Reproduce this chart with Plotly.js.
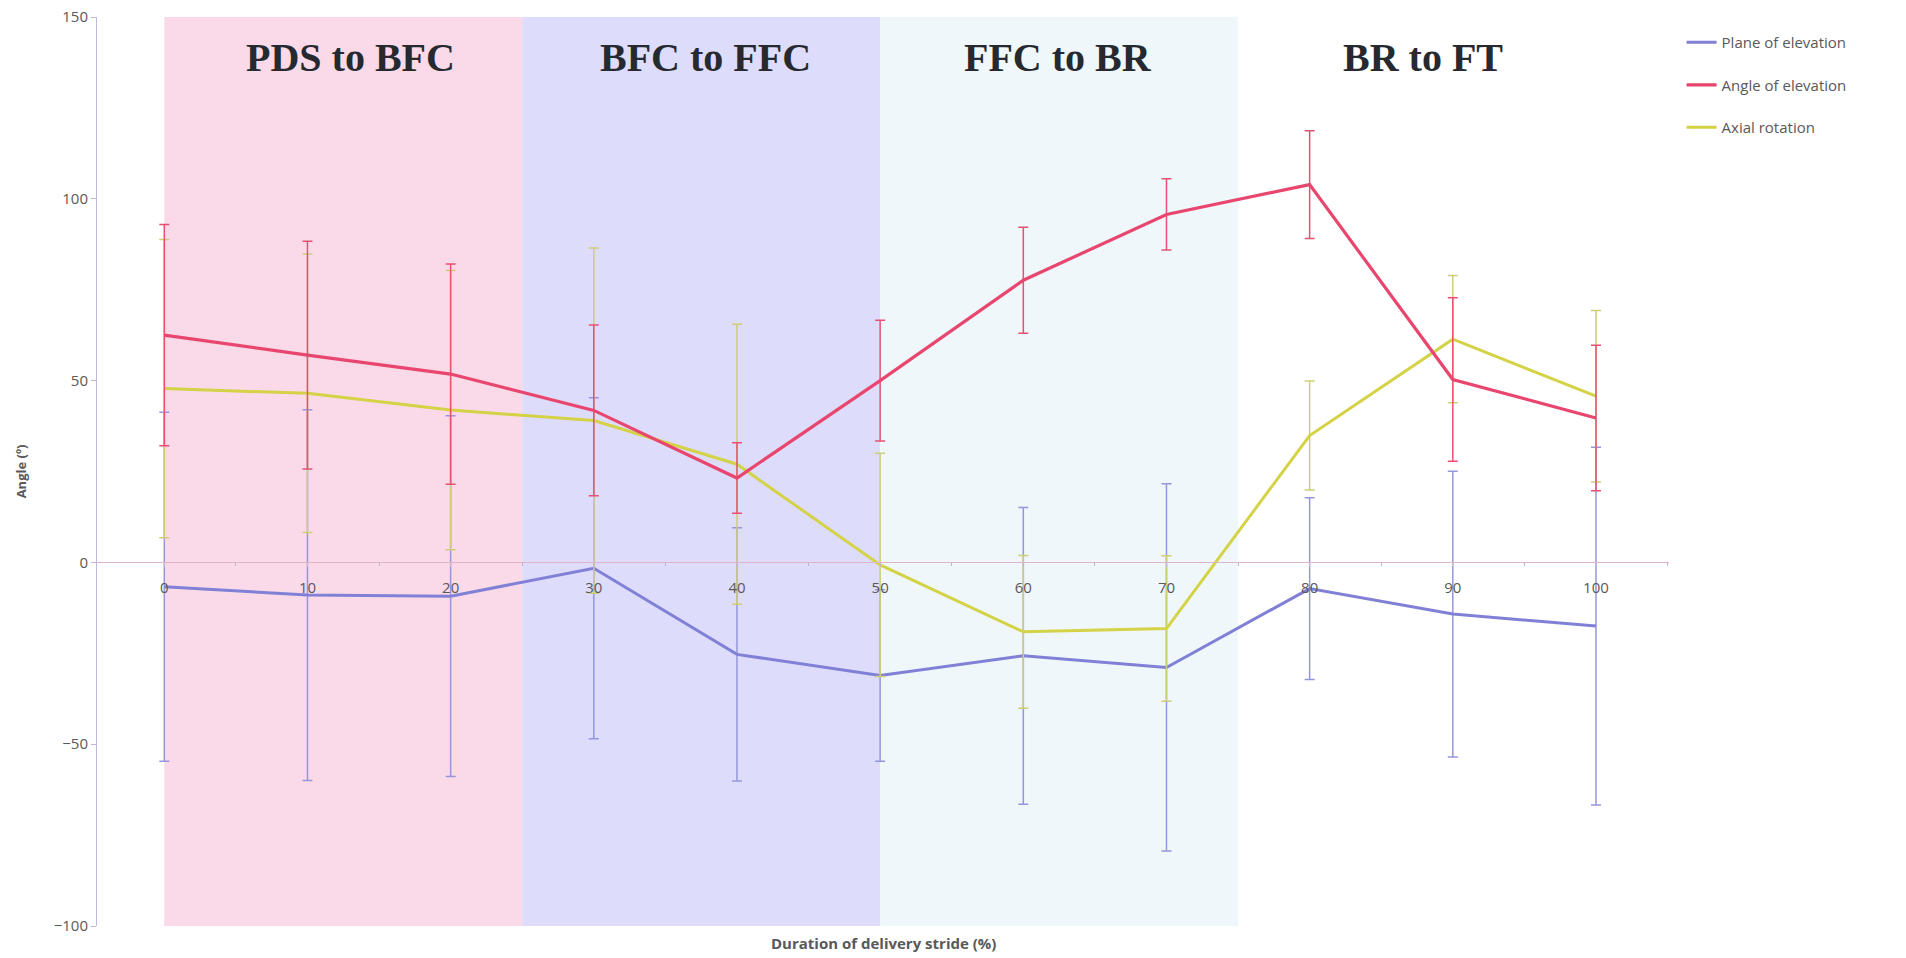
<!DOCTYPE html>
<html>
<head>
<meta charset="utf-8">
<script src="https://cdn.plot.ly/plotly-3.0.1.min.js"></script>
<style>html,body{margin:0;padding:0;background:#fff;}#chart{width:1906px;height:958px;}</style>
</head>
<body>
<div id="chart"></div>
<script>
const stride = [0, 10, 20, 30, 40, 50, 60, 70, 80, 90, 100];

const planeMean = [-6.7, -9, -9.3, -1.6, -25.3, -31.1, -25.7, -28.9, -7.2, -14.2, -17.5];
const planeSD   = [48, 51, 49.6, 46.9, 34.8, 23.6, 40.8, 50.5, 25, 39.3, 49.2];

const angleMean = [62.5, 57, 51.8, 41.8, 23.2, 50, 77.6, 95.7, 103.9, 50.3, 39.7];
const angleSD   = [30.4, 31.3, 30.3, 23.5, 9.7, 16.6, 14.6, 9.8, 14.8, 22.5, 20];

const axialMean = [47.8, 46.5, 41.9, 39, 27, -0.7, -19.1, -18.2, 34.9, 61.4, 45.7];
const axialSD   = [41, 38.3, 38.4, 47.5, 38.5, 30.7, 21, 20, 15, 17.5, 23.6];

const seriesNames = ["Plane of elevation", "Angle of elevation", "Axial rotation"];
const phaseNames = ["PDS to BFC", "BFC to FFC", "FFC to BR", "BR to FT"];
const phaseStart = [0, 25, 50, 75];
const phaseEnd   = [25, 50, 75, 100];
const phaseLabelX = [13, 37.8, 62.4, 87.9];
const xTitle = "Duration of delivery stride (%)";
const yTitle = "Angle (º)";

const phaseFill = ["rgb(250,218,232)", "rgb(221,220,250)", "rgb(239,247,250)", "rgba(255,255,255,0)"];

function trace(name, mean, sd, lineColor, barColor, width, group) {
  return {
    x: stride, y: mean, name: name, type: "scatter", mode: "lines",
    legendgroup: group,
    line: {color: lineColor, width: width},
    error_y: {type: "data", array: sd, visible: true, color: barColor, thickness: 1.5, width: 5}
  };
}

const data = [
  trace(seriesNames[0], planeMean, planeSD, "rgb(128,128,214)", "rgb(150,150,220)", 3, "a"),
  trace(seriesNames[2], axialMean, axialSD, "rgb(212,210,70)", "rgb(205,205,120)", 3, "c"),
  trace(seriesNames[1], angleMean, angleSD, "rgb(232,70,110)", "rgb(232,80,115)", 3.2, "b")
];
data[0].legendrank = 1; data[2].legendrank = 2; data[1].legendrank = 3;

const shapes = phaseStart.slice(0, 3).map((s, i) => ({
  type: "rect", xref: "x", yref: "y", x0: s, x1: phaseEnd[i], y0: -100, y1: 150.5,
  fillcolor: phaseFill[i], line: {width: 0}, layer: "below"
}));

const annotations = phaseNames.map((t, i) => ({
  text: "<b>" + t + "</b>", x: phaseLabelX[i], y: 139, xref: "x", yref: "y",
  showarrow: false, font: {family: "Liberation Serif, Times New Roman, serif", size: 40, color: "#262a30"}
}));
annotations.push({
  text: "<b>" + xTitle + "</b>", xref: "paper", yref: "paper", x: 0.5, y: -0.019,
  xanchor: "center", yanchor: "middle", showarrow: false,
  font: {family: "Open Sans, Liberation Sans, sans-serif", size: 15, color: "#595959"}
});

const layout = {
  width: 1906, height: 958,
  margin: {l: 97, r: 237, t: 17, b: 32},
  paper_bgcolor: "#fff", plot_bgcolor: "rgba(0,0,0,0)",
  showlegend: true,
  legend: {
    x: 1.008, y: 0.99, xanchor: "left", yanchor: "top",
    traceorder: "grouped", tracegroupgap: 20,
    font: {family: "Open Sans, Liberation Sans, sans-serif", size: 15, color: "#595959"},
    bgcolor: "rgba(0,0,0,0)", itemwidth: 30
  },
  xaxis: {
    range: [-4.7, 105.1], tickvals: stride, ticktext: stride.map(String),
    showgrid: false, zeroline: false, showline: true, linecolor: "rgb(225,180,205)", linewidth: 1,
    anchor: "free", position: 0.4,
    ticks: "outside", ticklen: 4, tickcolor: "rgb(200,180,200)", ticklabelstandoff: 8,
    minor: {dtick: 5, tick0: 5, ticks: "outside", ticklen: 3, tickcolor: "rgb(190,180,200)"},
    tickfont: {family: "Open Sans, Liberation Sans, sans-serif", size: 15, color: "#595959"}
  },
  yaxis: {
    range: [-100, 150], dtick: 50, showgrid: false, zeroline: false,
    showline: true, linecolor: "rgb(185,185,225)", linewidth: 1,
    ticks: "outside", ticklen: 5, tickcolor: "rgb(185,185,225)",
    tickfont: {family: "Open Sans, Liberation Sans, sans-serif", size: 15, color: "#595959"},
    title: {text: "<b>" + yTitle + "</b>", font: {family: "Open Sans, Liberation Sans, sans-serif", size: 13, color: "#595959"}, standoff: 24}
  },
  shapes: shapes,
  annotations: annotations
};

Plotly.newPlot("chart", data, layout, {displayModeBar: false, staticPlot: true});
</script>
</body>
</html>
